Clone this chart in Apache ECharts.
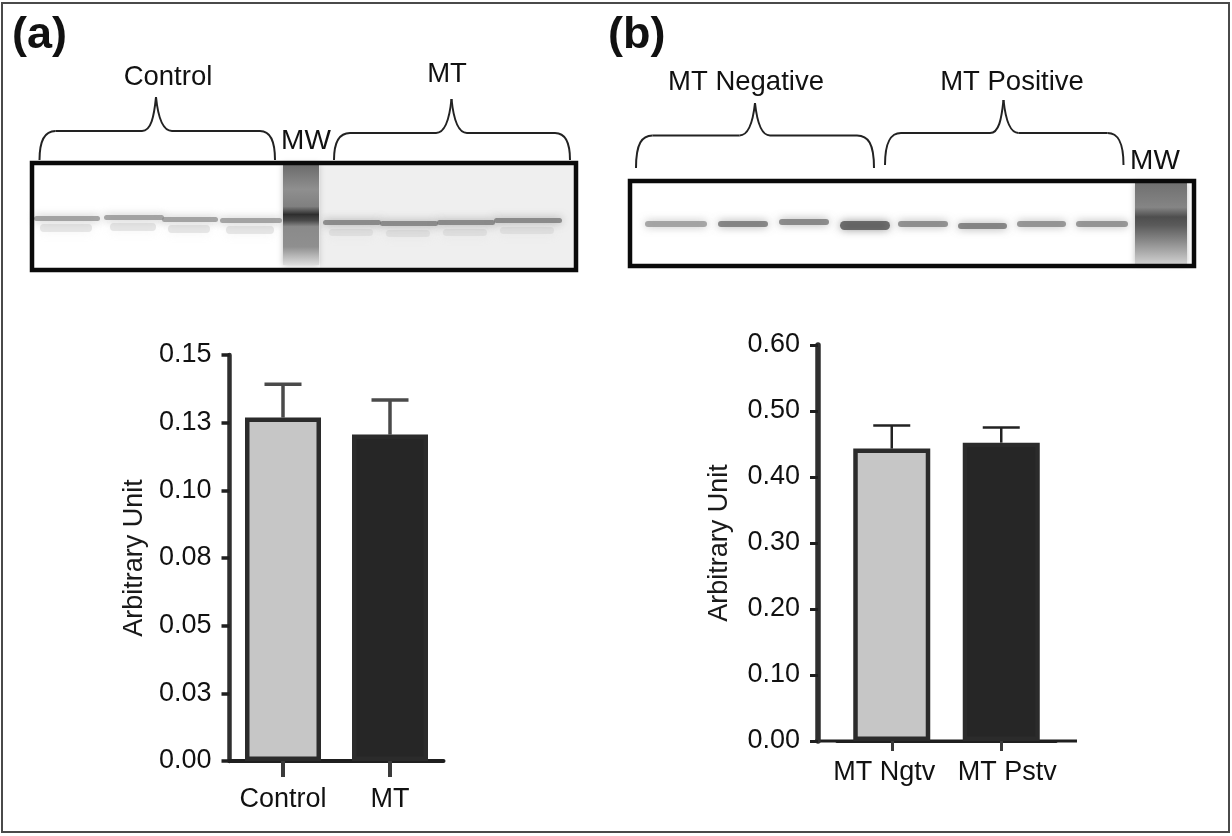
<!DOCTYPE html>
<html>
<head>
<meta charset="utf-8">
<style>html,body{margin:0;padding:0;background:#fff}#c{width:1232px;height:836px}</style>
<script src="https://cdn.jsdelivr.net/npm/echarts@6/dist/echarts.min.js"></script>
</head>
<body>
<div id="c"></div>
<script>
// Panel (a)
const catsA = ['Control', 'MT'];
const meansA = [0.1269, 0.1206];
const upperA = [0.1392, 0.1334];
const ticksA = ['0.00', '0.03', '0.05', '0.08', '0.10', '0.13', '0.15'];
// Panel (b)
const catsB = ['MT Ngtv', 'MT Pstv'];
const meansB = [0.443, 0.452];
const upperB = [0.478, 0.475];
const ticksB = ['0.00', '0.10', '0.20', '0.30', '0.40', '0.50', '0.60'];

const FONT = '"Liberation Sans", Arial, sans-serif';
const LIGHT = '#c6c6c6', DARK = '#262626', INK = '#1f1f1f';

function errorSeries(idx, means, upper, color, lineW) {
  return {
    type: 'custom', xAxisIndex: idx, yAxisIndex: idx, z: 1, silent: true, clip: false,
    data: means.map((m, i) => [i, m, upper[i]]),
    encode: { x: 0, y: [1, 2] },
    renderItem(p, api) {
      const a = api.coord([api.value(0), api.value(1)]);
      const b = api.coord([api.value(0), api.value(2)]);
      const st = { stroke: color, lineWidth: lineW, fill: null };
      return { type: 'group', children: [
        { type: 'line', shape: { x1: a[0], y1: a[1], x2: b[0], y2: b[1] }, style: st },
        { type: 'line', shape: { x1: b[0] - 18.5, y1: b[1], x2: b[0] + 18.5, y2: b[1] }, style: st }
      ] };
    }
  };
}
function barSeries(idx, means, width, bw) {
  return {
    type: 'bar', xAxisIndex: idx, yAxisIndex: idx, barWidth: width, z: 2, silent: true,
    data: means.map((m, i) => ({ value: m, itemStyle: { color: i ? DARK : LIGHT, borderColor: '#2b2b2b', borderWidth: bw } }))
  };
}
function xAxis(idx, cats, tickLen, tickW, lineW, margin, pads) {
  return {
    type: 'category', gridIndex: idx,
    data: cats.map((c, i) => ({ value: c, textStyle: { padding: pads[i] } })),
    axisLine: { lineStyle: { color: INK, width: lineW } },
    axisTick: { show: true, alignWithLabel: true, length: tickLen, lineStyle: { color: '#3a3a3a', width: tickW } },
    axisLabel: { color: '#111', fontFamily: FONT, fontSize: 27, margin: margin, interval: 0 }
  };
}
function yAxis(idx, max, step, labels, offset, gap, lineW, tickW) {
  return {
    type: 'value', gridIndex: idx, min: 0, max: max, interval: step, offset: offset,
    name: 'Arbitrary Unit', nameLocation: 'middle', nameRotate: 90, nameGap: gap,
    nameTextStyle: { color: '#1a1a1a', fontFamily: FONT, fontSize: 27 },
    splitLine: { show: false },
    axisLine: { show: true, lineStyle: { color: '#2f2f2f', width: lineW } },
    axisTick: { show: true, length: 8, lineStyle: { color: INK, width: tickW } },
    axisLabel: { color: '#111', fontFamily: FONT, fontSize: 27, margin: 18, padding: [3, 0, 0, 0],
      formatter: (v, i) => labels[i] }
  };
}

// ----- decoration: photographed blots, braces, captions -----
const deco = [];
function label(t, x, y, size, weight, align) {
  deco.push({ type: 'text', x, y, z: 20, style: { text: t, fill: '#111', font: `${weight || 'normal'} ${size}px ${FONT}`, textAlign: align || 'center', textVerticalAlign: 'middle' } });
}
const braceStyle = { fill: null, stroke: '#222', lineWidth: 2 };
function curve(x1, y1, cpx1, cpy1, cpx2, cpy2, x2, y2) {
  deco.push({ type: 'bezierCurve', z: 15, shape: { x1, y1, x2, y2, cpx1, cpy1, cpx2, cpy2 }, style: braceStyle });
}
function seg(x1, y1, x2, y2) {
  deco.push({ type: 'line', z: 15, shape: { x1, y1, x2, y2 }, style: braceStyle });
}
function brace(x0, yEnd, x1, top, x2, xTip, tipY, x3, x4, x5) {
  curve(x0, yEnd, x0, top + 8, x0 + 6, top, x1, top);
  seg(x1, top, x2, top);
  curve(x2, top, x2 + 9, top, xTip - 2, top - 14, xTip, tipY);
  curve(xTip, tipY, xTip + 2, top - 14, x3 - 9, top, x3, top);
  seg(x3, top, x4, top);
  curve(x4, top, x5 - 6, top, x5, top + 8, x5, yEnd);
}
function smear(x, y, w, h, color, blur) {
  deco.push({ type: 'rect', z: 5, shape: { x, y, width: w, height: h, r: h / 2 }, style: { fill: color, shadowBlur: blur, shadowColor: color } });
}
function mwLane(x, y, w, h, stops) {
  deco.push({ type: 'rect', z: 6, shape: { x, y, width: w, height: h },
    style: { fill: new echarts.graphic.LinearGradient(0, 0, 0, 1, stops.map(s => ({ offset: s[0], color: s[1] }))), shadowBlur: 6, shadowColor: 'rgba(150,150,150,0.6)' } });
}
function frame(x, y, w, h) {
  deco.push({ type: 'rect', z: 10, shape: { x, y, width: w, height: h }, style: { fill: null, stroke: '#0a0a0a', lineWidth: 4.5 } });
}
// outer border
deco.push({ type: 'rect', z: 0, shape: { x: 2, y: 3, width: 1227, height: 829 }, style: { fill: null, stroke: '#4a4a4a', lineWidth: 2 } });

// blot (a)
deco.push({ type: 'rect', z: 3, shape: { x: 320, y: 164, width: 255, height: 104 }, style: { fill: '#efefef' } });
[[34, 66, 218], [104, 60, 217], [162, 56, 219], [220, 62, 220]].forEach(l => {
  smear(l[0] + 6, l[2] + 6, l[1] - 14, 8, 'rgba(210,210,210,0.5)', 10);
  smear(l[0], l[2] - 2, l[1], 5, 'rgba(135,135,135,0.7)', 8);
});
[[323, 58, 222], [380, 58, 223], [437, 58, 222], [494, 68, 220]].forEach(l => {
  smear(l[0] + 6, l[2] + 7, l[1] - 14, 7, 'rgba(210,210,210,0.5)', 10);
  smear(l[0], l[2] - 2, l[1], 5, 'rgba(115,115,115,0.75)', 8);
});
mwLane(283, 164, 36, 101, [[0, '#6a6a6a'], [0.25, '#8f8f8f'], [0.42, '#808080'], [0.5, '#2e2e2e'], [0.56, '#4a4a4a'], [0.62, '#8a8a8a'], [0.82, '#8f8f8f'], [1, '#dedede']]);

// blot (b)
[[645, 62, 1.1], [718, 50, 0.8], [779, 50, 0.85], [840, 50, 0.55], [898, 50, 0.9], [958, 49, 0.8], [1017, 49, 0.95], [1076, 52, 0.95]].forEach((l, i) => {
  const y = i === 0 ? 224 : i === 2 ? 222 : i === 5 ? 226 : 224;
  const g = Math.round(130 * l[2]);
  smear(l[0], y - 3, l[1], i === 3 ? 9 : 6, `rgba(${g},${g},${g},0.75)`, 9);
});
mwLane(1135, 183, 52, 81, [[0, '#707070'], [0.3, '#858585'], [0.42, '#4e4e4e'], [0.52, '#5a5a5a'], [0.72, '#8a8a8a'], [1, '#d0d0d0']]);

frame(32, 163, 544, 107);
frame(630, 181, 564, 85);

// braces
brace(39.5, 160, 55.5, 131, 142, 156, 97, 172, 260, 275);
brace(334, 160, 350, 133, 436, 451.5, 99, 467, 555, 570);
brace(636, 168, 652.5, 135.5, 739.5, 755, 103, 770, 857, 874);
brace(885, 165, 901, 133, 990, 1003.5, 100, 1018.5, 1107.5, 1123.5);

// captions
label('(a)', 12, 36, 45, 'bold', 'left');
label('(b)', 608, 36, 45, 'bold', 'left');
label('Control', 168, 77, 27.5);
label('MT', 447, 74, 27.5);
label('MW', 306, 141, 28);
label('MT Negative', 746, 82, 27.5);
label('MT Positive', 1012, 82, 27.5);
label('MW', 1155, 161.5, 28);
// baseline of (b) reaches beyond its bar band on both sides
deco.push({ type: 'line', z: 0, shape: { x1: 815, y1: 741, x2: 1077, y2: 741 }, style: { stroke: INK, lineWidth: 3 } });

const chart = echarts.init(document.getElementById('c'), null, { renderer: 'canvas' });
chart.setOption({
  animation: false,
  backgroundColor: '#fff',
  tooltip: { show: false },
  grid: [
    { left: 229.5, top: 355, width: 214, height: 406, containLabel: false },
    { left: 837, top: 345, width: 219, height: 396, containLabel: false }
  ],
  xAxis: [
    xAxis(0, catsA, 16, 4, 4, 25, [0, 0]),
    xAxis(1, catsB, 10, 3, 3, 18, [[0, 15, 0, 0], [0, 0, 0, 12]])
  ],
  yAxis: [
    yAxis(0, 0.15, 0.025, ticksA, 0, 81, 4.5, 3.5),
    yAxis(1, 0.6, 0.1, ticksB, 19, 85, 5.5, 3)
  ],
  series: [
    errorSeries(0, meansA, upperA, '#4a4a4a', 3.5),
    barSeries(0, meansA, 76, 4.5),
    errorSeries(1, meansB, upperB, '#222', 2.5),
    barSeries(1, meansB, 77, 4.5)
  ],
  graphic: { elements: deco }
});
</script>
</body>
</html>
